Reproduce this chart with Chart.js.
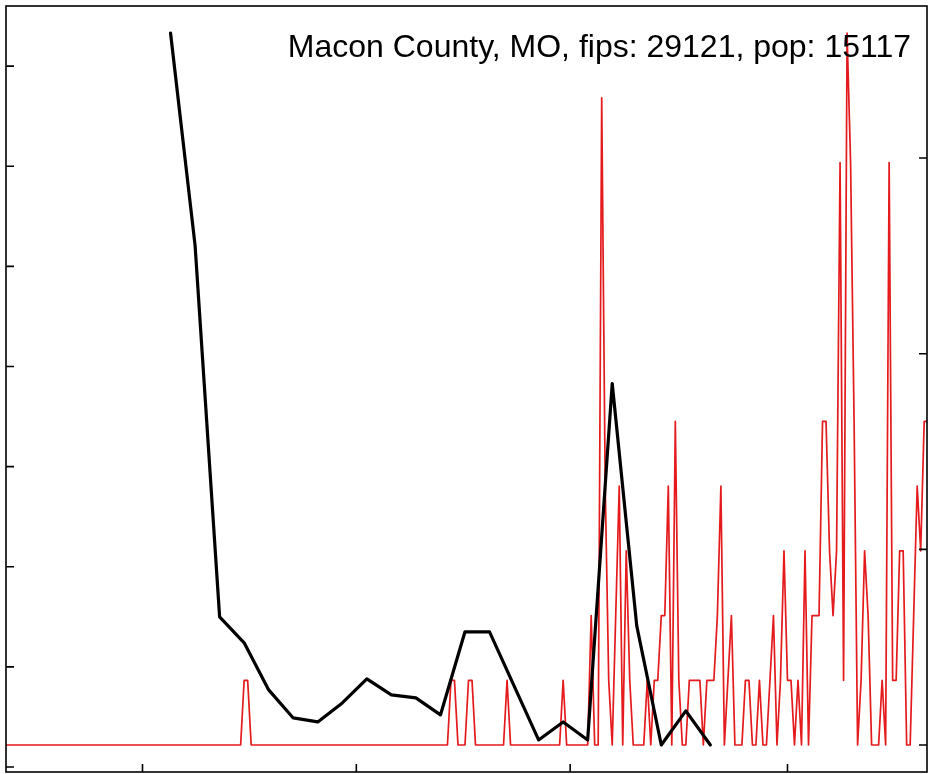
<!DOCTYPE html>
<html><head><meta charset="utf-8">
<script src="https://cdn.jsdelivr.net/npm/chart.js@4.4.0/dist/chart.umd.min.js"></script>
<style>html,body{margin:0;padding:0;background:#fff;overflow:hidden}#wrap{width:933px;height:774px;position:relative}</style>
</head><body><div id="wrap"><canvas id="c" width="933" height="774"></canvas></div>
<script>
const titleText = 'Macon County, MO, fips: 29121, pop: 15117';
const population = 15117;
const startDate = '2020-01-22';
const xTickDates = ['2020-03-01', '2020-05-01', '2020-07-01', '2020-09-01'];
const leftTicks = [0, 1, 2, 3, 4, 5, 6, 7];
const rightTicksPer100k = [0, 20, 40, 60];

// daily new cases, one value per day from startDate
const dailyCases = [
  0,0,0,0,0,0,0,0,0,0,
  0,0,0,0,0,0,0,0,0,0,
  0,0,0,0,0,0,0,0,0,0,
  0,0,0,0,0,0,0,0,0,0,
  0,0,0,0,0,0,0,0,0,0,
  0,0,0,0,0,0,0,0,0,0,
  0,0,0,0,0,0,0,0,1,1,
  0,0,0,0,0,0,0,0,0,0,
  0,0,0,0,0,0,0,0,0,0,
  0,0,0,0,0,0,0,0,0,0,
  0,0,0,0,0,0,0,0,0,0,
  0,0,0,0,0,0,0,0,0,0,
  0,0,0,0,0,0,0,1,1,0,
  0,0,1,1,0,0,0,0,0,0,
  0,0,0,1,0,0,0,0,0,0,
  0,0,0,0,0,0,0,0,0,1,
  0,0,0,0,0,0,0,2,0,0,
  10,4,1,0,2,4,0,3,1,0,
  0,0,0,1,0,1,1,2,2,4,
  0,5,1,0,0,1,1,1,1,0,
  1,1,1,2,4,0,1,2,0,0,
  0,1,1,0,0,1,0,0,1,2,
  0,1,3,1,1,0,1,0,3,0,
  2,2,2,5,5,3,2,3,9,1,
  11,9,5,0,1,3,2,0,0,0,
  1,0,9,1,1,3,3,0,0,2,
  4,3,5,5
];

// weekly series (day index from startDate, value on left axis)
const weeklyDays = [47,54,61,68,75,82,89,96,103,110,117,124,131,138,145,152,159,166,173,180,187,194,201];
const weeklyValues = [7.33,5.21,1.50,1.24,0.77,0.49,0.45,0.64,0.88,0.72,0.69,0.52,1.35,1.35,0.81,0.27,0.45,0.27,3.83,1.41,0.22,0.56,0.22];

const dayOf = d => Math.round((Date.parse(d) - Date.parse(startDate)) / 864e5);
const xTicks = xTickDates.map(dayOf);
const rightTicks = rightTicksPer100k.map(v => v * population / 1e5);

const framePlugin = {
  id: 'frame',
  afterDatasetsDraw(chart) {
    const {ctx, chartArea: a, scales} = chart;
    ctx.save();
    ctx.strokeStyle = '#000';
    ctx.lineWidth = 1.6;
    ctx.strokeRect(a.left, a.top, a.right - a.left, a.bottom - a.top);
    const L = 8;
    ctx.beginPath();
    leftTicks.forEach(v => { const y = scales.yL.getPixelForValue(v); ctx.moveTo(a.left, y); ctx.lineTo(a.left + L, y); });
    rightTicks.forEach(v => { const y = scales.yR.getPixelForValue(v); ctx.moveTo(a.right, y); ctx.lineTo(a.right - L, y); });
    xTicks.forEach(v => { const x = scales.x.getPixelForValue(v); ctx.moveTo(x, a.bottom); ctx.lineTo(x, a.bottom - L); });
    ctx.stroke();
    ctx.fillStyle = '#000';
    ctx.font = '32px "Liberation Sans", Arial, sans-serif';
    ctx.textAlign = 'right';
    ctx.textBaseline = 'alphabetic';
    ctx.fillText(titleText, a.right - 16, 57);
    ctx.restore();
  }
};

new Chart(document.getElementById('c'), {
  type: 'line',
  data: {
    datasets: [
      {
        label: 'weekly',
        data: weeklyDays.map((d, i) => ({x: d, y: weeklyValues[i]})),
        yAxisID: 'yL',
        borderColor: '#000',
        borderWidth: 3.2,
        pointRadius: 0,
        tension: 0,
        borderJoinStyle: 'round',
        borderCapStyle: 'round',
        order: 0
      },
      {
        label: 'daily',
        data: dailyCases.map((v, i) => ({x: i, y: v})),
        yAxisID: 'yR',
        borderColor: '#e41a1c',
        borderWidth: 1.7,
        pointRadius: 0,
        tension: 0,
        borderJoinStyle: 'round',
        order: 1
      }
    ]
  },
  options: {
    responsive: false,
    animation: false,
    devicePixelRatio: 1,
    layout: {padding: {left: 6, top: 6, right: 6, bottom: 2}},
    plugins: {legend: {display: false}, tooltip: {enabled: false}, title: {display: false}},
    scales: {
      x: {type: 'linear', min: 0.06, max: 262.8, display: false},
      yL: {type: 'linear', position: 'left', min: -0.05, max: 7.6, display: false},
      yR: {type: 'linear', position: 'right', min: -0.417, max: 11.42, display: false}
    }
  },
  plugins: [framePlugin]
});
</script>
</body></html>
